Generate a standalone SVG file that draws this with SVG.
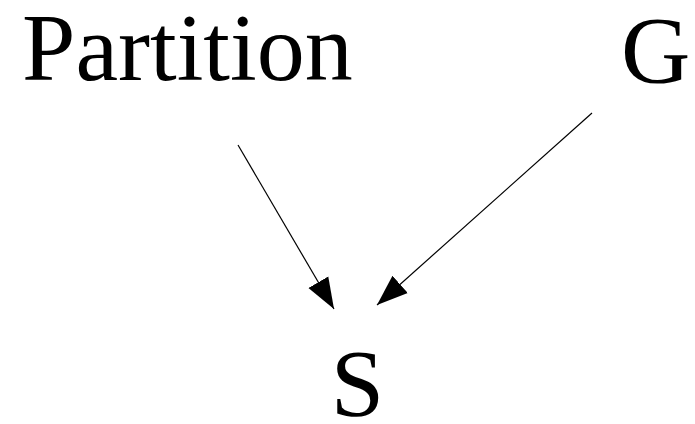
<svg xmlns="http://www.w3.org/2000/svg" width="695" height="424" viewBox="0 0 695 424">
<style>
.lbl{font-family:"Liberation Serif","Times New Roman",serif;font-size:96px;fill:#000}
.edge{stroke:#000;stroke-width:1.2;fill:none}
</style>
<defs>
<marker id="ah" viewBox="0 -12 32 24" refX="31" refY="0" markerWidth="32" markerHeight="24" markerUnits="userSpaceOnUse" orient="auto">
<path d="M0,-11.5 L31,0 L0,11.5 z" fill="#000"/>
</marker>
</defs>
<rect width="695" height="424" fill="#fff"/>
<g id="connectors">
<line class="edge" x1="238" y1="145" x2="334" y2="309" marker-end="url(#ah)"/>
<line class="edge" x1="592" y1="113" x2="377" y2="305" marker-end="url(#ah)"/>
</g>
<g id="node-partition"><text class="lbl" x="22" y="80">Partition</text></g>
<g id="node-g"><text class="lbl" x="621" y="83">G</text></g>
<g id="node-s"><text class="lbl" x="357.5" y="416" text-anchor="middle">S</text></g>
</svg>
